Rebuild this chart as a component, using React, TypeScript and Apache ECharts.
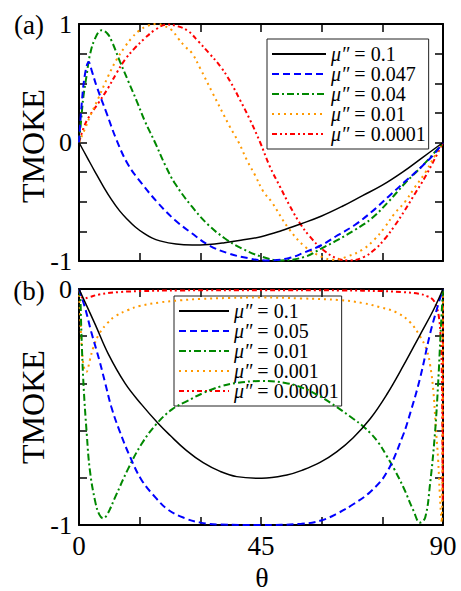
import React, { useEffect, useRef } from 'react';
import * as echarts from 'echarts';

const FONT = 'Liberation Serif';

// tick labels
const xLabelTicks = [0, 45, 90];
const yLabelTicksA = [-1, 0, 1];
const yLabelTicksB = [-1, 0];

// legend values (mu'')
const muA = ['0.1', '0.047', '0.04', '0.01', '0.0001'];
const muB = ['0.1', '0.05', '0.01', '0.001', '0.00001'];

// ---- panel (a) : [theta, TMOKE]
const aBlack = [[0,0],[2,-0.125],[4,-0.25],[6,-0.37],[8,-0.48],[10,-0.575],[12,-0.65],[14,-0.715],[16,-0.765],[18,-0.805],[20,-0.83],[24,-0.857],[28,-0.865],[32,-0.86],[36,-0.845],[40,-0.825],[45,-0.795],[50,-0.745],[55,-0.685],[60,-0.62],[65,-0.54],[70,-0.45],[75,-0.36],[80,-0.25],[85,-0.125],[90,0]];
const aBlue = [[0,0],[0.7,0.34],[1.5,0.58],[2.4,0.68],[3.2,0.6],[4.4,0.47],[6.8,0.25],[9.3,0.02],[12.2,-0.19],[15.5,-0.345],[19.6,-0.513],[23.7,-0.654],[27.9,-0.766],[32,-0.865],[36.9,-0.935],[41.9,-0.977],[46,-0.995],[51.8,-0.977],[55.9,-0.925],[60,-0.865],[64.1,-0.78],[68.2,-0.696],[72.4,-0.584],[76.5,-0.457],[80.6,-0.33],[84.7,-0.204],[88,-0.09],[90,0]];
const aGreen = [[0,0],[0.5,0.18],[1.1,0.39],[1.9,0.57],[2.7,0.74],[4,0.88],[5.6,0.947],[7,0.92],[8.1,0.854],[10.1,0.685],[12.2,0.516],[14.3,0.348],[16.3,0.179],[18.8,0],[21.3,-0.19],[23.7,-0.344],[27.9,-0.54],[32,-0.696],[36.1,-0.81],[40.2,-0.893],[45.2,-0.964],[50,-0.995],[55.9,-0.964],[60,-0.893],[64.1,-0.82],[68.2,-0.738],[72.4,-0.64],[76.5,-0.5],[80.6,-0.344],[84.7,-0.204],[88.8,-0.05],[90,0]];
const aOrange = [[0,0],[1.9,0.15],[2.7,0.22],[4.8,0.375],[7.2,0.559],[9.3,0.7],[11.4,0.81],[13,0.88],[14.7,0.94],[17,0.985],[19.2,1.0],[21,0.985],[22.9,0.95],[24.5,0.88],[26.2,0.81],[27.9,0.755],[29.9,0.63],[33,0.42],[37.3,0.133],[39.5,0],[41.5,-0.148],[43.5,-0.274],[45.6,-0.415],[47.6,-0.5],[51.8,-0.724],[55.9,-0.88],[60,-0.964],[63,-0.99],[66.5,-0.96],[70.3,-0.9],[73,-0.82],[75.5,-0.72],[78,-0.6],[80.6,-0.5],[83,-0.38],[85.6,-0.255],[88,-0.11],[90,0]];
const aRed = [[0,0],[1,0.11],[2.3,0.207],[4.8,0.333],[7.2,0.46],[9.3,0.587],[11.4,0.7],[13.8,0.797],[16.3,0.88],[18.8,0.95],[21.7,0.995],[24.5,0.98],[27,0.94],[29.5,0.854],[32,0.76],[35,0.64],[37.3,0.52],[39.8,0.36],[42.3,0.19],[44.8,0],[47.2,-0.204],[49.7,-0.373],[52.2,-0.54],[54.6,-0.68],[57.1,-0.795],[60.4,-0.907],[63.7,-0.977],[67,-0.995],[70.5,-0.965],[73.2,-0.9],[75.7,-0.81],[78.1,-0.7],[80.6,-0.57],[83.1,-0.43],[85.6,-0.29],[88,-0.135],[90,0]];

// ---- panel (b)
const bBlack = [[0,0],[4,-0.15],[7.2,-0.274],[11.4,-0.4],[15.5,-0.49],[19.6,-0.57],[22.5,-0.62],[26.6,-0.685],[30.7,-0.736],[34.9,-0.773],[39,-0.795],[45.2,-0.802],[51.4,-0.788],[55.5,-0.766],[59.6,-0.735],[63.7,-0.69],[67.8,-0.63],[72,-0.55],[76.1,-0.447],[80.2,-0.325],[84.3,-0.195],[87.6,-0.09],[90,0]];
const bBlue = [[0,0],[1.5,-0.08],[3,-0.18],[5,-0.3],[6.5,-0.4],[8,-0.5],[10,-0.6],[12.6,-0.71],[15.5,-0.81],[19,-0.885],[22,-0.935],[26,-0.97],[30,-0.99],[35,-0.998],[45,-1],[55,-0.995],[60,-0.98],[64,-0.95],[68,-0.91],[72,-0.86],[76,-0.78],[80,-0.625],[82,-0.52],[84.3,-0.38],[86.8,-0.19],[88.4,-0.09],[90,0]];
const bGreen = [[0,0],[0.3,-0.03],[0.6,-0.19],[1.1,-0.4],[1.9,-0.61],[2.7,-0.77],[4,-0.9],[5,-0.955],[6,-0.972],[7,-0.955],[9,-0.88],[12.2,-0.76],[15.5,-0.656],[19.2,-0.571],[23,-0.51],[26.6,-0.476],[30.7,-0.441],[35,-0.413],[39,-0.398],[45,-0.39],[51,-0.398],[55.5,-0.42],[59.6,-0.455],[63.7,-0.5],[67.8,-0.55],[70,-0.578],[72,-0.61],[74,-0.65],[76,-0.705],[78,-0.765],[80.2,-0.84],[82.7,-0.939],[84.3,-0.99],[85.6,-0.968],[86.8,-0.826],[88,-0.614],[88.8,-0.4],[89.4,-0.19],[90,0]];
const bOrange = [[0,0],[0.3,-0.12],[0.7,-0.25],[1.2,-0.33],[1.8,-0.352],[2.7,-0.3],[3.5,-0.25],[5,-0.19],[7,-0.145],[9,-0.115],[12,-0.09],[15,-0.072],[20,-0.057],[25,-0.048],[30,-0.042],[37,-0.038],[45,-0.036],[55,-0.04],[64.5,-0.047],[70.3,-0.06],[74.4,-0.077],[78.6,-0.1],[81.8,-0.14],[84.3,-0.2],[86,-0.26],[86.8,-0.32],[87.6,-0.43],[88.2,-0.58],[88.8,-0.725],[89.2,-0.865],[89.5,-0.955],[89.7,-0.99],[90,0]];
const bRed = [[0,0],[0.5,-0.03],[1.3,-0.04],[2.5,-0.035],[5,-0.023],[10,-0.013],[15,-0.009],[25,-0.006],[45,-0.005],[65,-0.006],[75,-0.009],[80,-0.013],[84,-0.02],[86,-0.03],[87.5,-0.045],[88.4,-0.076],[89,-0.12],[89.4,-0.2],[89.7,-0.35],[89.85,-0.65],[89.93,-0.9],[90,0]];

const seriesA = [aBlack, aBlue, aGreen, aOrange, aRed];
const seriesB = [bBlack, bBlue, bGreen, bOrange, bRed];

const STYLES: any[] = [
  { color: '#000000', width: 1.5, type: 'solid' },
  { color: '#0000ff', width: 2, type: [7, 4] },
  { color: '#008800', width: 2, type: [7, 3, 2, 3] },
  { color: '#ff9900', width: 2, type: [2, 4] },
  { color: '#ff0000', width: 2, type: [5, 3, 2, 3, 2, 3] },
];

const isInt = (v: number) => Math.abs(v - Math.round(v)) < 1e-6;

function makeX(grid: number, pos: 'top' | 'bottom', labels: boolean) {
  return {
    type: 'value', gridIndex: grid, position: pos, min: 0, max: 90, interval: 15,
    axisLine: { show: true, onZero: false, lineStyle: { color: '#000', width: 2 } },
    axisTick: { show: true, inside: true, length: 8, lineStyle: { color: '#000', width: 1.5 } },
    splitLine: { show: false },
    axisLabel: labels
      ? {
          show: true, margin: 7, color: '#000', fontFamily: FONT, fontSize: 27,
          formatter: (v: number) => (xLabelTicks.some((t) => Math.abs(t - v) < 1e-6) ? String(Math.round(v)) : ''),
        }
      : { show: false },
  };
}

function makeY(grid: number, pos: 'left' | 'right', min: number, max: number, interval: number, labelTicks: number[] | null) {
  return {
    type: 'value', gridIndex: grid, position: pos, min, max, interval,
    axisLine: { show: true, onZero: false, lineStyle: { color: '#000', width: 2 } },
    axisTick: { show: true, inside: true, length: 8, lineStyle: { color: '#000', width: 1.5 } },
    splitLine: { show: false },
    axisLabel: labelTicks
      ? {
          show: true, margin: 7, color: '#000', fontFamily: FONT, fontSize: 26,
          formatter: (v: number) => (isInt(v) && labelTicks.some((t) => Math.abs(t - v) < 1e-6) ? String(Math.round(v)) : ''),
        }
      : { show: false },
  };
}

function makeLegend(names: string[], mus: string[], left: number, top: number, itemWidth: number) {
  const map: Record<string, string> = {};
  names.forEach((n, i) => (map[n] = mus[i]));
  return {
    data: names, orient: 'vertical', left, top, itemWidth, itemHeight: 16, itemGap: 0,
    padding: [5, 3, 5, 4], borderColor: '#222', borderWidth: 1, backgroundColor: 'transparent',
    selectedMode: false,
    itemStyle: { opacity: 0, color: 'transparent', borderColor: 'transparent', borderWidth: 0 },
    formatter: (n: string) => `{i|μ″}{n| = ${map[n]}}`,
    textStyle: {
      fontFamily: FONT, fontSize: 20, color: '#000', lineHeight: 16,
      rich: {
        i: { fontFamily: FONT, fontStyle: 'italic', fontSize: 20, color: '#000', lineHeight: 16 },
        n: { fontFamily: FONT, fontSize: 20, color: '#000', lineHeight: 16 },
      },
    },
  };
}

export default function App() {
  const ref = useRef<HTMLDivElement>(null);
  useEffect(() => {
    if (!ref.current) return;
    const chart = echarts.init(ref.current, undefined, { renderer: 'svg' });
    const namesA = muA.map((_, i) => `a${i}`);
    const namesB = muB.map((_, i) => `b${i}`);
    const series: any[] = [];
    seriesA.forEach((d, i) => {
      series.push({
        name: namesA[i], type: 'line', xAxisIndex: 0, yAxisIndex: 0, data: d,
        showSymbol: false, symbol: 'circle', symbolSize: 0, smooth: 0.4,
        lineStyle: { ...STYLES[i] }, itemStyle: { color: STYLES[i].color }, z: 10 - i,
      });
    });
    seriesB.forEach((d, i) => {
      series.push({
        name: namesB[i], type: 'line', xAxisIndex: 2, yAxisIndex: 2, data: d,
        showSymbol: false, symbol: 'circle', symbolSize: 0, smooth: 0.4,
        lineStyle: { ...STYLES[i] }, itemStyle: { color: STYLES[i].color }, z: 10 - i,
      });
    });
    chart.setOption({
      animation: false,
      backgroundColor: '#ffffff',
      textStyle: { fontFamily: FONT },
      grid: [
        { left: 79, top: 24, width: 364, height: 237 },
        { left: 79, top: 289, width: 364, height: 236 },
      ],
      xAxis: [makeX(0, 'bottom', false), makeX(0, 'top', false), makeX(1, 'bottom', true), makeX(1, 'top', false)],
      yAxis: [
        makeY(0, 'left', -1, 1, 0.25, yLabelTicksA),
        makeY(0, 'right', -1, 1, 0.25, null),
        makeY(1, 'left', -1, 0, 0.2, yLabelTicksB),
        makeY(1, 'right', -1, 0, 0.2, null),
      ],
      legend: [makeLegend(namesA, muA, 267, 39, 54), makeLegend(namesB, muB, 174, 296, 50)],
      graphic: [
        { type: 'text', x: 29, y: 25, style: { text: '(a)', fontFamily: FONT, fontSize: 27, fill: '#000', textAlign: 'center', textVerticalAlign: 'middle' } },
        { type: 'text', x: 29, y: 291, style: { text: '(b)', fontFamily: FONT, fontSize: 27, fill: '#000', textAlign: 'center', textVerticalAlign: 'middle' } },
        { type: 'text', x: 33, y: 146, rotation: Math.PI / 2, style: { text: 'TMOKE', fontFamily: FONT, fontSize: 32, fill: '#000', textAlign: 'center', textVerticalAlign: 'middle' } },
        { type: 'text', x: 33, y: 407, rotation: Math.PI / 2, style: { text: 'TMOKE', fontFamily: FONT, fontSize: 32, fill: '#000', textAlign: 'center', textVerticalAlign: 'middle' } },
        { type: 'text', x: 262, y: 577, style: { text: 'θ', fontFamily: FONT, fontSize: 28, fill: '#000', textAlign: 'center', textVerticalAlign: 'middle' } },
      ],
      series,
    });
    return () => chart.dispose();
  }, []);
  return <div ref={ref} style={{ position: 'fixed', left: 0, top: 0, width: 461, height: 591 }} />;
}
